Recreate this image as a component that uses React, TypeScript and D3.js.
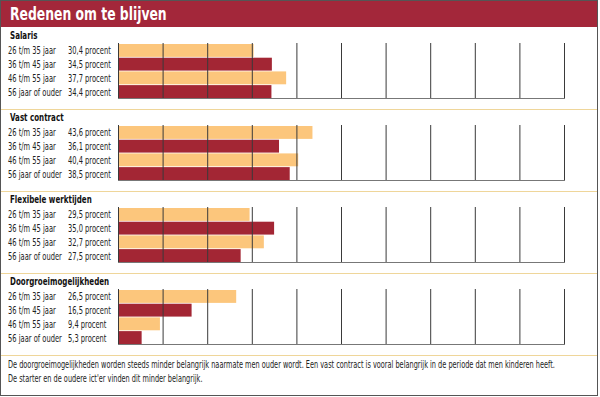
import * as d3 from 'd3';
import { useEffect, useRef } from 'react';

const groups = ['Salaris', 'Vast contract', 'Flexibele werktijden', 'Doorgroeimogelijkheden'];
const ages = ['26 t/m 35 jaar', '36 t/m 45 jaar', '46 t/m 55 jaar', '56 jaar of ouder'];
const salaris = [30.4, 34.5, 37.7, 34.4];
const vastContract = [43.6, 36.1, 40.4, 38.5];
const flexibel = [29.5, 35.0, 32.7, 27.5];
const doorgroei = [26.5, 16.5, 9.4, 5.3];
const ticks = [0, 10, 20, 30, 40, 50, 60, 70, 80, 90, 100];
const footer = [
  'De doorgroeimogelijkheden worden steeds minder belangrijk naarmate men ouder wordt. Een vast contract is vooral belangrijk in de periode dat men kinderen heeft.',
  "De starter en de oudere ict'er vinden dit minder belangrijk.",
];

const W = 600;
const H = 397;
const FONT = '"DejaVu Sans Condensed", "Liberation Sans Narrow", sans-serif';
const light = '#fcc67c';
const dark = '#a32634';

// condensed text: the original uses a narrow face, so squeeze horizontally
const label = (parent, x, y, txt, size, squeeze, bold = false, fill = '#222') =>
  parent.append('text')
    .attr('transform', `translate(${x},${y}) scale(${squeeze},1)`)
    .attr('font-family', FONT)
    .attr('font-size', size)
    .attr('font-weight', bold ? 'bold' : 'normal')
    .attr('fill', fill)
    .text(txt);

const draw = (node) => {
  const series = [salaris, vastContract, flexibel, doorgroei];
  const svg = d3.select(node);
  svg.selectAll('*').remove();

  svg.append('rect').attr('width', W).attr('height', H).attr('fill', '#fff');

  // header
  svg.append('rect').attr('x', 0).attr('y', 0).attr('width', 598).attr('height', 27).attr('fill', '#a3273a');
  svg.append('line').attr('x1', 0).attr('x2', 598).attr('y1', 0.5).attr('y2', 0.5).attr('stroke', '#6e1a25');
  label(svg, 10, 20, 'Redenen om te blijven', 17, 0.81, true, '#fff');

  const x = d3.scaleLinear().domain([0, 100]).range([118, 564]);
  const groupY = d3.scaleBand().domain(groups).range([27, 355]);
  const step = groupY.bandwidth();

  groups.forEach((name, gi) => {
    const top = groupY(name);
    const g = svg.append('g');
    label(g, 10, top + 12, name, 11, 0.72, true, '#111');

    const y = d3.scaleBand().domain(ages).range([top + 17, top + 71]).paddingInner(0.06);

    g.selectAll('rect.bar')
      .data(series[gi])
      .enter()
      .append('rect')
      .attr('class', 'bar')
      .attr('x', x(0))
      .attr('y', (d, i) => y(ages[i]))
      .attr('width', d => x(d) - x(0))
      .attr('height', y.bandwidth())
      .attr('fill', (d, i) => (i % 2 === 0 ? light : dark));

    ages.forEach((a, i) => {
      const ty = y(a) + y.bandwidth() / 2 + 4;
      label(g, 8, ty, a, 11, 0.68);
      label(g, 68, ty, d3.format('.1f')(series[gi][i]).replace('.', ',') + ' procent', 11, 0.68);
    });

    // grid on top of bars
    g.selectAll('line.grid')
      .data(ticks)
      .enter()
      .append('line')
      .attr('class', 'grid')
      .attr('x1', d => x(d) + 0.5).attr('x2', d => x(d) + 0.5)
      .attr('y1', top + 16).attr('y2', top + 71)
      .attr('stroke', '#3a3a3a').attr('stroke-width', 1);

    g.append('line')
      .attr('x1', x(0)).attr('x2', x(100) + 1)
      .attr('y1', top + 71.5).attr('y2', top + 71.5)
      .attr('stroke', '#777');

    // separator under group
    g.append('line')
      .attr('x1', 0).attr('x2', 598)
      .attr('y1', top + step + 0.5).attr('y2', top + step + 0.5)
      .attr('stroke', '#efd69a');
  });

  footer.forEach((t, i) => label(svg, 8, 368 + i * 14, t, 10, 0.73));

  // outer frame
  svg.append('rect')
    .attr('x', 0.5).attr('y', 0.5).attr('width', 597).attr('height', 395)
    .attr('fill', 'none').attr('stroke', '#555');
};

export default function App() {
  const ref = useRef(null);
  useEffect(() => {
    document.body.style.margin = '0';
    draw(ref.current);
  }, []);
  return <svg ref={ref} width={W} height={H} style={{ display: 'block' }} />;
}
